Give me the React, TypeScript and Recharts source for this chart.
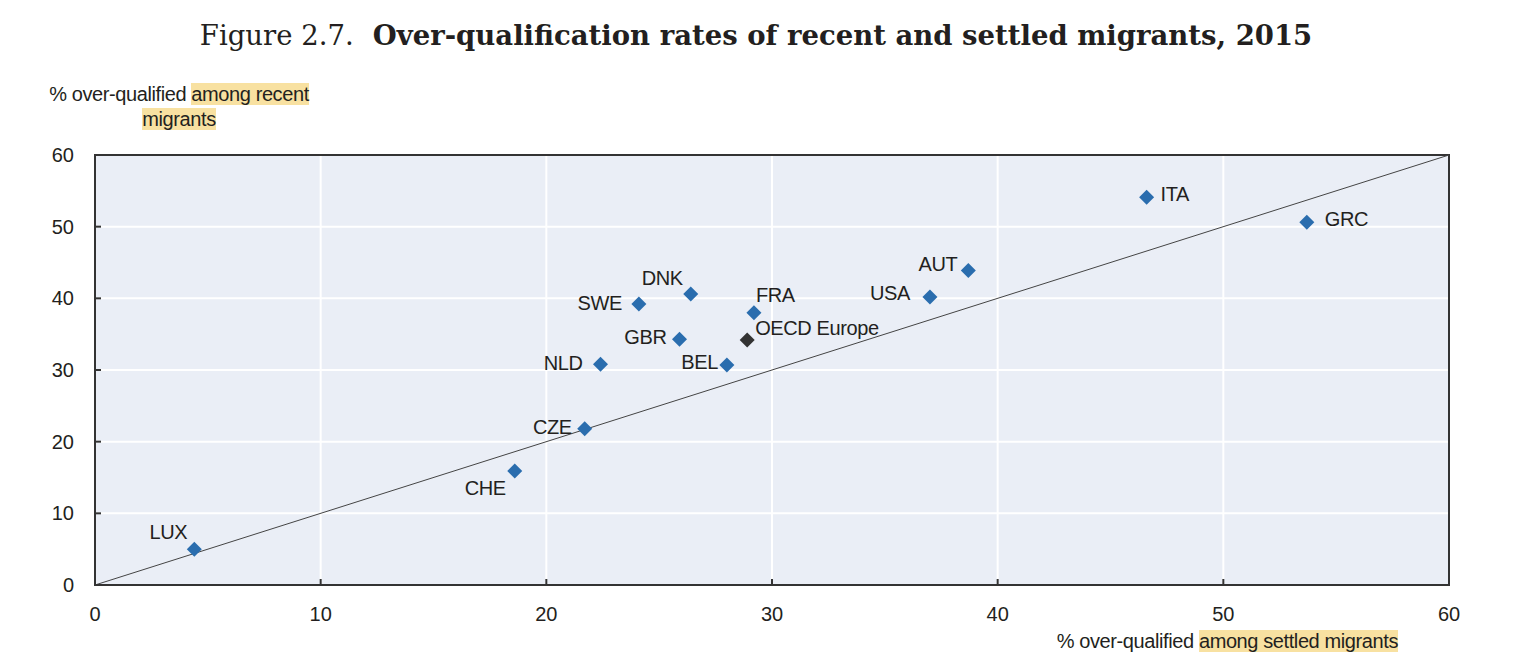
import React from 'react';
import {
  ScatterChart,
  Scatter,
  XAxis,
  YAxis,
  CartesianGrid,
  ReferenceLine,
  ReferenceArea,
} from 'recharts';

// ---- data ----
const countries = ['LUX', 'CHE', 'CZE', 'NLD', 'SWE', 'DNK', 'GBR', 'BEL', 'FRA', 'OECD Europe', 'USA', 'AUT', 'ITA', 'GRC'];
const settled = [4.4, 18.6, 21.7, 22.4, 24.1, 26.4, 25.9, 28.0, 29.2, 28.9, 37.0, 38.7, 46.6, 53.7];
const recent = [5.0, 15.9, 21.8, 30.8, 39.2, 40.6, 34.3, 30.7, 38.0, 34.2, 40.2, 43.9, 54.1, 50.6];
const axisTicks = [0, 10, 20, 30, 40, 50, 60];

// label placement (style only): anchor, dx, dy relative to marker centre
const labelPlacement: Record<string, [string, number, number]> = {
  LUX: ['end', -7, -17],
  CHE: ['end', -9, 17],
  CZE: ['end', -13, -2],
  NLD: ['end', -18, -1],
  SWE: ['end', -17, -1],
  DNK: ['end', -8, -16],
  GBR: ['end', -13, -2],
  BEL: ['end', -9, -3],
  FRA: ['start', 2, -18],
  'OECD Europe': ['start', 8, -12],
  USA: ['end', -20, -4],
  AUT: ['end', -11, -6],
  ITA: ['start', 14, -3],
  GRC: ['start', 18, -3],
};

const points = countries.map((name, i) => ({ name, x: settled[i], y: recent[i] }));

const BLUE = '#2A6DAE';
const DARK = '#333333';
const TEXT = '#231F20';
const FONT = '"Liberation Sans", Arial, Helvetica, sans-serif';
const FS = 20;
const LS = -0.4;

const Marker = (props: any) => {
  const { cx, cy, payload } = props;
  if (cx == null || cy == null) return null;
  const r = 7.5;
  const isAgg = payload.name === 'OECD Europe';
  const [anchor, dx, dy] = labelPlacement[payload.name] || ['start', 10, 0];
  return (
    <g>
      <polygon
        points={`${cx},${cy - r} ${cx + r},${cy} ${cx},${cy + r} ${cx - r},${cy}`}
        fill={isAgg ? DARK : BLUE}
      />
      <text
        x={cx + dx}
        y={cy + dy}
        textAnchor={anchor as any}
        dominantBaseline="central"
        fontFamily={FONT}
        fontSize={FS}
        letterSpacing={LS}
        fill={TEXT}
      >
        {payload.name}
      </text>
    </g>
  );
};

const XTick = (props: any) => {
  const { x, y, payload } = props;
  return (
    <g>
      <line x1={x} x2={x} y1={y} y2={y - 6} stroke={DARK} strokeWidth={2} />
      <text x={x} y={y + 29} textAnchor="middle" dominantBaseline="central" fontFamily={FONT} fontSize={FS} fill={TEXT}>
        {payload.value}
      </text>
    </g>
  );
};

const YTick = (props: any) => {
  const { x, y, payload } = props;
  return (
    <g>
      <line x1={x} x2={x + 6} y1={y} y2={y} stroke={DARK} strokeWidth={2} />
      <text x={x - 21} y={y} textAnchor="end" dominantBaseline="central" fontFamily={FONT} fontSize={FS} fill={TEXT}>
        {payload.value}
      </text>
    </g>
  );
};

const HL = '#F8E1A1';

export default function App() {
  return (
    <div style={{ position: 'absolute', left: 0, top: 0, width: 1524, height: 672, background: '#fff' }}>
      <div
        style={{
          position: 'absolute',
          left: 0,
          top: 17,
          width: 1512,
          textAlign: 'center',
          fontFamily: '"DejaVu Serif", serif',
          fontSize: 27.5,
          lineHeight: '36px',
          color: TEXT,
          whiteSpace: 'nowrap',
        }}
      >
        <span>Figure 2.7.</span>
        <span style={{ fontWeight: 'bold' }}>{'\u00a0 Over-qualification rates of recent and settled migrants, 2015'}</span>
      </div>
      <div
        style={{
          position: 'absolute',
          left: 39,
          top: 82,
          width: 280,
          textAlign: 'center',
          fontFamily: FONT,
          fontSize: FS,
          letterSpacing: LS,
          lineHeight: '25px',
          color: TEXT,
        }}
      >
        % over-qualified <span style={{ background: HL }}>among recent</span>
        <br />
        <span style={{ background: HL }}>migrants</span>
      </div>
      <div
        style={{
          position: 'absolute',
          left: 173,
          top: 171,
          fontFamily: FONT,
          fontStyle: 'italic',
          fontSize: FS,
          letterSpacing: LS,
          lineHeight: '26px',
          color: TEXT,
        }}
      >
        Over-qualification more prevalent among
        <br />
        recent migrants
      </div>
      <div
        style={{
          position: 'absolute',
          right: 1524 - 1398,
          top: 629,
          fontFamily: FONT,
          fontSize: FS,
          letterSpacing: LS,
          lineHeight: '25px',
          color: TEXT,
          whiteSpace: 'nowrap',
        }}
      >
        % over-qualified <span style={{ background: HL }}>among settled migrants</span>
      </div>
      <div style={{ position: 'absolute', left: 0, top: 0 }}>
        <ScatterChart width={1524} height={672} margin={{ top: 155, right: 75, bottom: 47, left: 35 }}>
          <CartesianGrid stroke="#FFFFFF" strokeWidth={2} fill="#EAEEF6" fillOpacity={1} />
          <XAxis
            type="number"
            dataKey="x"
            domain={[0, 60]}
            ticks={axisTicks}
            height={40}
            tickSize={0}
            tickMargin={0}
            tickLine={false}
            axisLine={{ stroke: DARK, strokeWidth: 2 }}
            tick={<XTick />}
            interval={0}
          />
          <YAxis
            type="number"
            dataKey="y"
            domain={[0, 60]}
            ticks={axisTicks}
            width={60}
            tickSize={0}
            tickMargin={0}
            tickLine={false}
            axisLine={{ stroke: DARK, strokeWidth: 2 }}
            tick={<YTick />}
            interval={0}
          />
          <ReferenceArea x1={0} x2={60} y1={0} y2={60} fill="none" stroke={DARK} strokeWidth={2} ifOverflow="visible" />
          <ReferenceLine
            segment={[{ x: 0, y: 0 }, { x: 60, y: 60 }]}
            stroke="#444"
            strokeWidth={1}
            ifOverflow="visible"
          />
          <Scatter data={points} shape={<Marker />} isAnimationActive={false} />
        </ScatterChart>
      </div>
    </div>
  );
}
